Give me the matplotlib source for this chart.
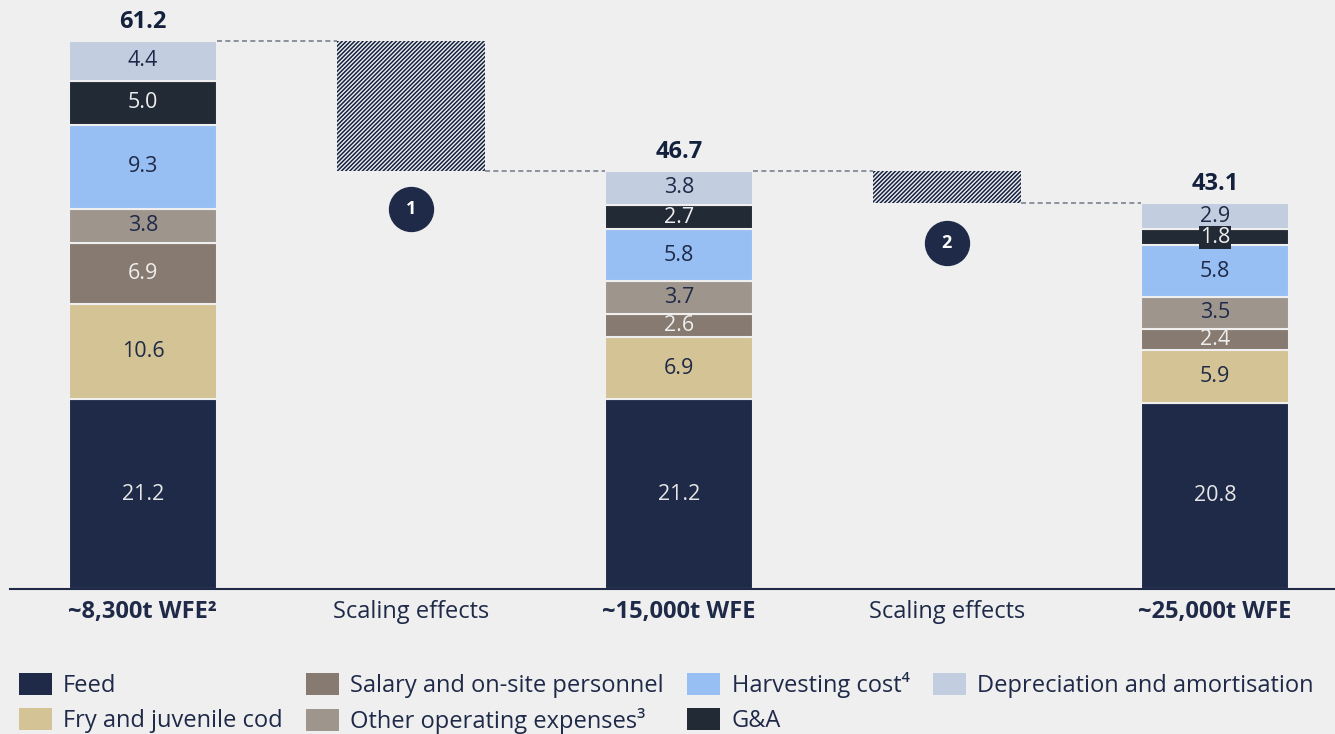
import matplotlib
matplotlib.use("Agg")
import matplotlib.pyplot as plt
from matplotlib.patches import Patch
import numpy as np

plt.rcParams['font.family'] = ['Open Sans', 'DejaVu Sans']
plt.rcParams['hatch.linewidth'] = 1.1

# data
categories = ["~8,300t WFE²", "Scaling effects", "~15,000t WFE", "Scaling effects", "~25,000t WFE"]
bar_pos = [0, 2, 4]
step_pos = [1, 3]
components = ["Feed", "Fry and juvenile cod", "Salary and on-site personnel",
              "Other operating expenses³", "Harvesting cost⁴", "G&A",
              "Depreciation and amortisation"]
feed = [21.2, 21.2, 20.8]
fry = [10.6, 6.9, 5.9]
salary = [6.9, 2.6, 2.4]
other_opex = [3.8, 3.7, 3.5]
harvesting = [9.3, 5.8, 5.8]
g_and_a = [5.0, 2.7, 1.8]
depreciation = [4.4, 3.8, 2.9]
totals = [61.2, 46.7, 43.1]
step_labels = ["1", "2"]

series = [feed, fry, salary, other_opex, harvesting, g_and_a, depreciation]
colors = ["#1f2a48", "#d4c395", "#877a70", "#9e958d", "#97bff4", "#222a36", "#c2cde0"]
text_colors = ["#e6e6e6", "#1f2a48", "#eeeeee", "#1f2a48", "#1f2a48", "#eeeeee", "#1f2a48"]
bg = "#efefef"
navy = "#1f2a48"

fig = plt.figure(figsize=(13.35, 7.34), dpi=100, facecolor=bg)
ax = fig.add_axes([10 / 1335, 145 / 734, 1325 / 1335, 589 / 734])
ax.set_facecolor(bg)

width = 0.552
bottom = np.zeros(3)
for vals, c, tc in zip(series, colors, text_colors):
    vals = np.array(vals)
    ax.bar(bar_pos, vals, width, bottom=bottom, color=c, edgecolor=bg, linewidth=1.5)
    for x, v, b in zip(bar_pos, vals, bottom):
        if c == "#222a36" and v < 2:
            ax.text(x, b + v / 2, f"{v:.1f}", ha="center", va="center", fontsize=15.5, color=tc,
                    bbox=dict(boxstyle="square,pad=0.05", fc=c, ec="none"))
        else:
            ax.text(x, b + v / 2, f"{v:.1f}", ha="center", va="center", fontsize=15.5, color=tc)
    bottom += vals

for x, t in zip(bar_pos, totals):
    ax.annotate(f"{t:.1f}", (x, t), xytext=(0, 5), textcoords="offset points",
                ha="center", va="bottom", fontsize=17, fontweight="bold", color="#13213d")

# waterfall steps (hatched)
for i, x in enumerate(step_pos):
    hi = totals[i]
    lo = totals[i + 1]
    ax.bar(x, hi - lo, width, bottom=lo, color=bg, edgecolor="#132040", hatch="////////", linewidth=0)
    # connectors
    ax.plot([bar_pos[i] + width / 2, x - width / 2], [hi, hi], ls=(0, (3, 2)), color="#7a8290", lw=1.2)
    ax.plot([x + width / 2, bar_pos[i + 1] - width / 2], [lo, lo], ls=(0, (3, 2)), color="#7a8290", lw=1.2)

circle_y = [42.5, 38.7]
for x, y, lab in zip(step_pos, circle_y, step_labels):
    ax.scatter([x], [y], s=1000, color=navy, zorder=5)
    ax.text(x, y, lab, ha="center", va="center", color="white", fontsize=13, fontweight="bold", zorder=6)

ax.set_xlim(-0.496, 4.448)
ax.set_ylim(0, 65.8)
ax.set_xticks(range(5))
ax.set_xticklabels(categories, fontsize=17, color=navy)
for i, lbl in enumerate(ax.get_xticklabels()):
    if i in bar_pos:
        lbl.set_fontweight("bold")
ax.tick_params(axis="x", length=0, pad=8)
ax.set_yticks([])
for s in ["top", "right", "left"]:
    ax.spines[s].set_visible(False)
ax.spines["bottom"].set_color(navy)
ax.spines["bottom"].set_linewidth(1.5)

handles = [Patch(facecolor=c, edgecolor="none") for c in colors]
fig.legend(handles, components, ncol=4, loc="lower left", bbox_to_anchor=(-0.002, -0.029),
           frameon=False, fontsize=17, handlelength=1.4, handleheight=1.06,
           handletextpad=0.47, columnspacing=1.0, labelspacing=0.42, labelcolor=navy)

fig.savefig("out.png", dpi=100, facecolor=bg)
